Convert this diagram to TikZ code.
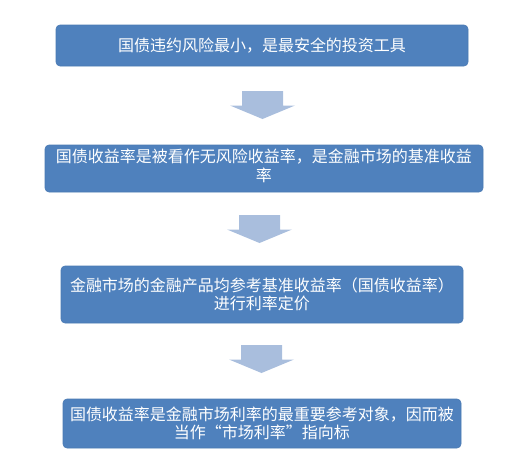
\documentclass[tikz,border=0pt]{standalone}
\usepackage{fontspec}
\setmainfont{Noto Sans CJK SC}
\begin{document}
\begin{tikzpicture}[x=1pt,y=-1pt,
  box/.style={fill=boxblue,draw=boxedge,line width=0.6pt,rounded corners=4pt,text=white,align=center,inner sep=0pt,
    font=\fontsize{16}{18.5}\selectfont},
  blockarrow/.style={fill=arrowblue,draw=none}]
\definecolor{boxblue}{HTML}{4F81BD}
\definecolor{boxedge}{HTML}{4A7AB3}
\definecolor{arrowblue}{HTML}{A9BEDD}
\useasboundingbox (0,0) rectangle (528,469);
% boxes
\node[box,minimum width=412pt,minimum height=41pt] (b1) at (262,45.5) {国债违约风险最小，是最安全的投资工具};
\node[box,minimum width=438pt,minimum height=47pt] (b2) at (264,168.5) {};
\node[font=\fontsize{16}{18.5}\selectfont,text=white,align=center,inner sep=0pt] (t2) at (264,166) {国债收益率是被看作无风险收益率，是金融市场的基准收益\\率};
\node[box,minimum width=402pt,minimum height=57pt] (b3) at (262,294.5) {金融市场的金融产品均参考基准收益率（国债收益率）\\进行利率定价};
\node[box,minimum width=398pt,minimum height=49pt] (b4) at (262,423.5) {国债收益率是金融市场利率的最重要参考对象，因而被\\当作“市场利率”指向标};
% block arrows
\foreach \cx/\ty/\nm in {262.5/91/a1, 259.5/215/a2, 261.5/345/a3}{
  \coordinate (\nm) at (\cx,\ty);
  \fill[blockarrow] ([xshift=-20.5pt]\nm) -- ([xshift=20.5pt]\nm) -- ([xshift=20.5pt,yshift=-14.5pt]\nm)
    -- ([xshift=32.5pt,yshift=-14.5pt]\nm) -- ([yshift=-28pt]\nm) -- ([xshift=-32.5pt,yshift=-14.5pt]\nm)
    -- ([xshift=-20.5pt,yshift=-14.5pt]\nm) -- cycle;
}
\end{tikzpicture}
\end{document}
